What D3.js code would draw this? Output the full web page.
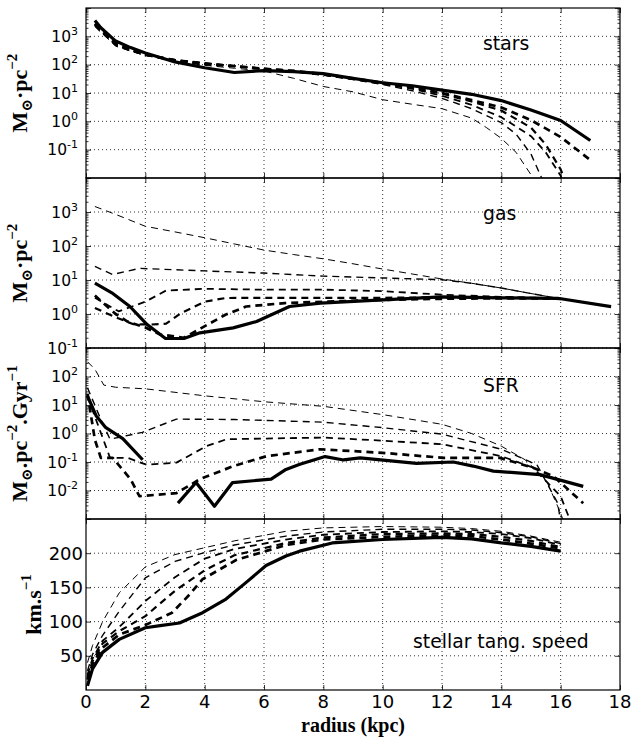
<!DOCTYPE html>
<html>
<head>
<meta charset="utf-8">
<script src="https://cdn.jsdelivr.net/npm/d3@7"></script>
<style>
  body { margin: 0; background: #fff; }
  svg { display: block; }
</style>
</head>
<body>
<svg id="chart" width="636" height="738"></svg>
<script>
// radius (kpc) vs value. d0 = thinnest dashed ... d4 = thickest dashed, s = solid
const xTicks = [0, 2, 4, 6, 8, 10, 12, 14, 16, 18];

const starsD0 = [[0.3,2200],[0.5,1400],[1,450],[1.5,300],[2,210],[3,130],[4,95],[5,75],[6,60],[7,33],[8,17],[9,11],[10,5.8],[11,4],[12,2.8],[13,1.3],[13.5,0.6],[14,0.25],[14.5,0.08],[15,0.013],[15.2,0.006]];
const starsD1 = [[0.3,2400],[0.5,1450],[1,480],[1.5,310],[2,215],[3,145],[4,112],[5,90],[6,70],[7,57],[8,43],[9,30],[10,20],[11,12],[12,6.5],[13,2.8],[14,0.9],[14.5,0.35],[15,0.07],[15.4,0.008]];
const starsD2 = [[0.3,2500],[0.5,1500],[1,500],[1.5,320],[2,220],[3,150],[4,115],[5,90],[6,70],[7,57],[8,43],[9,31],[10,21],[11,14],[12,8],[13,3.8],[14,1.4],[15,0.3],[15.5,0.08],[16,0.012],[16.1,0.005]];
const starsD3 = [[0.3,2600],[0.5,1600],[1,520],[1.5,330],[2,225],[3,145],[4,110],[5,90],[6,72],[7,60],[8,45],[9,32],[10,22],[11,15],[12,9.5],[13,5],[14,2.4],[15,0.6],[15.5,0.15],[16,0.02],[16.2,0.006]];
const starsD4 = [[0.3,2800],[0.5,1700],[1,550],[1.5,340],[2,230],[3,140],[4,105],[5,88],[6,72],[7,60],[8,46],[9,33],[10,23],[11,16.5],[12,10],[13,5.6],[14,3.1],[15,1.1],[16,0.28],[17,0.043]];
const starsS  = [[0.3,3600],[0.5,2000],[1,680],[1.5,400],[2,260],[3,125],[4,78],[5,53],[6,62],[7,57],[8,48],[9,33],[10,23],[11,18],[12,12.6],[13,9],[14,5.4],[15,2.5],[16,1.07],[17,0.21]];

const gasD0 = [[0.3,1450],[1,850],[2,380],[3,260],[4,175],[5,115],[6,76],[7,56],[8,42],[9,30],[10,21],[11,15],[12,10.7],[13,8],[14,5.8],[15,4],[16,2.8]];
const gasD1 = [[0.3,25],[0.9,14.5],[1.8,22],[3,20],[4,18.5],[6,16],[8,13],[10,11.5],[12,10.2],[13,8],[14,5.8],[15,4],[16,2.8]];
const gasD2 = [[0.3,3.0],[1.1,1.2],[2,2.3],[2.7,4.9],[4,5.5],[6,5.2],[8,5.2],[10,4.7],[12,3.7],[14,3.2],[15,3.0],[16,2.8]];
const gasD3 = [[0.3,1.5],[1,0.8],[1.6,0.5],[2.2,0.49],[2.7,0.52],[3.2,1.05],[4,2.3],[4.7,2.95],[6,3.0],[8,3.0],[10,3.0],[12,3.1],[14,3.1],[15,3.0],[16,2.8]];
const gasD4 = [[0.3,3.5],[1,1.0],[1.4,0.6],[2,0.4],[2.5,0.25],[3.3,0.2],[3.9,0.39],[4.7,0.95],[5.4,1.66],[6.7,2.1],[8,2.3],[10,2.6],[12,2.8],[14,2.9],[15,2.9],[16,2.8]];
const gasS  = [[0.3,8.1],[0.87,4.2],[1.48,1.66],[2.06,0.49],[2.68,0.19],[3.3,0.19],[3.84,0.28],[4.96,0.39],[5.75,0.6],[6.86,1.66],[7.9,2.1],[10,2.6],[12,3.2],[14,3.0],[15.9,2.9],[17.7,1.65]];

const sfrD0 = [[0.05,330],[0.3,180],[0.6,50],[1,42],[2,37],[4,21],[6,13],[8,9],[10,4.6],[12,2.1],[13,1.0],[14,0.36],[14.8,0.12],[15.5,0.025],[16,0.0016],[16.1,0.0008]];
const sfrD1 = [[0.05,40],[0.47,3.7],[0.81,0.63],[1.9,1.1],[3.05,3.2],[5,3.1],[8,2.5],[10,1.6],[12,0.95],[14,0.28],[15.2,0.08],[15.9,0.0036],[16,0.0008]];
const sfrD2 = [[0.05,20],[0.58,0.63],[0.81,0.14],[1.4,0.14],[2.04,0.08],[3.05,0.095],[4.06,0.36],[4.74,0.63],[8,0.72],[10,0.56],[12,0.42],[14,0.16],[15.07,0.063],[16,0.0063],[16.3,0.001]];
const sfrD4 = [[0.05,25],[0.3,0.6],[0.5,0.14],[0.9,0.14],[1.5,0.025],[1.8,0.0063],[3.05,0.0081],[3.84,0.025],[4.97,0.072],[6.09,0.16],[7.89,0.28],[10,0.21],[12.03,0.14],[13.95,0.14],[15.07,0.063],[15.75,0.032],[16.76,0.0036]];
const sfrS  = [[0.05,21],[0.34,4.2],[0.67,1.6],[1.24,0.66],[1.91,0.12],[2.5,null],[3.1,0.0036],[3.71,0.019],[4.33,0.0028],[4.94,0.019],[6.24,0.025],[6.74,0.055],[7.21,0.083],[8.06,0.155],[8.68,0.118],[9.24,0.14],[11.14,0.089],[12.38,0.1],[13.05,0.072],[13.73,0.048],[15.3,0.036],[16.76,0.014]];

const speedD0 = [[0.05,40],[0.22,65],[0.56,100],[1.12,142],[2,180],[3,198],[4,208],[5,218],[6.74,232],[8,237],[10,239],[12,238],[13,236],[14,232],[15,225],[16,216]];
const speedD1 = [[0.05,28],[0.22,52],[0.56,80],[1.12,115],[2,164],[3,188],[4,201],[5,212],[6.74,225],[8,231],[10,235],[12,235],[13,234],[14,230],[15,224],[16,214]];
const speedD2 = [[0.05,22],[0.22,46],[0.56,72],[1.12,92],[2,130],[3,165],[4,192],[5,206],[6.74,220],[8,227],[10,231],[12,232],[13,231],[14,228],[15,222],[16,212]];
const speedD3 = [[0.05,18],[0.22,42],[0.56,68],[1.12,86],[2,108],[3,145],[4,175],[5,197],[6.74,215],[8,223],[10,228],[12,229],[13,228],[14,224],[15,218],[16,209]];
const speedD4 = [[0.05,15],[0.22,38],[0.56,62],[1.12,81],[2,95],[2.9,113],[3.5,140],[3.93,162],[5.06,190],[6.74,212],[8,220],[10,224],[12,226],[13,225],[14,220],[15,214],[16,207]];
const speedS  = [[0.05,6],[0.22,31],[0.56,55],[1.12,74],[2,91],[2.5,94],[3.15,98],[3.93,113],[4.72,133],[5.39,157],[6.07,182],[6.74,196],[7.2,203],[8.3,215],[10,220],[12,223],[13,221],[14,215],[15,210],[16,203]];

const speedTicks = [50, 100, 150, 200];

// line styles: width and dash for d0..d4 and solid
const lineWidths = [1, 1.4, 1.8, 2.2, 2.7, 3.2];
const lineDash = ['7,5', '7,5', '7,5', '7,5', '7,5', null];

const L = 86, R = 620;
const panels = [
  { label: 'stars', top: 8, bottom: 178, log: true, domain: [1e-2, 1e4], labels: [3, 2, 1, 0, -1],
    series: [starsD0, starsD1, starsD2, starsD3, starsD4, starsS], styles: [0, 1, 2, 3, 4, 5],
    ylab: [['M', 0], ['⊙', 1], ['·pc', 0], ['−2', 2]], ylx: 27 },
  { label: 'gas', top: 178, bottom: 348, log: true, domain: [1e-1, 1e4], labels: [3, 2, 1, 0, -1],
    series: [gasD0, gasD1, gasD2, gasD3, gasD4, gasS], styles: [0, 1, 2, 3, 4, 5],
    ylab: [['M', 0], ['⊙', 1], ['·pc', 0], ['−2', 2]], ylx: 27 },
  { label: 'SFR', top: 348, bottom: 519, log: true, domain: [1e-3, 1e3], labels: [2, 1, 0, -1, -2],
    series: [sfrD0, sfrD1, sfrD2, sfrD4, sfrS], styles: [0, 1, 2, 4, 5],
    ylab: [['M', 0], ['⊙', 1], ['.pc', 0], ['−2', 2], ['.Gyr', 0], ['−1', 2]], ylx: 27 },
  { label: 'stellar tang. speed', top: 519, bottom: 690, log: false, domain: [0, 250], labels: speedTicks,
    series: [speedD0, speedD1, speedD2, speedD3, speedD4, speedS], styles: [0, 1, 2, 3, 4, 5],
    ylab: [['km.s', 0], ['−1', 2]], ylx: 41 }
];
const annot = [[483, 50], [483, 220], [483, 392], [413, 648]];

const svg = d3.select('#chart');
const x = d3.scaleLinear().domain([0, 18]).range([L, R]);

panels.forEach((p, i) => {
  const g = svg.append('g');
  const y = (p.log ? d3.scaleLog() : d3.scaleLinear()).domain(p.domain).range([p.bottom, p.top]);

  svg.append('clipPath').attr('id', 'clip' + i)
    .append('rect').attr('x', L).attr('y', p.top).attr('width', R - L).attr('height', p.bottom - p.top);

  // major / minor tick positions
  let majors, minors = [];
  if (p.log) {
    const lo = Math.log10(p.domain[0]), hi = Math.log10(p.domain[1]);
    majors = d3.range(lo, hi + 1).map(e => Math.pow(10, e));
    d3.range(lo, hi).forEach(e => {
      for (let k = 2; k < 10; k++) minors.push(k * Math.pow(10, e));
    });
  } else {
    majors = p.labels;
  }
  const gridY = p.log ? p.labels.map(e => Math.pow(10, e)) : p.labels;

  // dotted grid
  g.append('g').selectAll('line').data(xTicks.slice(1, -1)).join('line')
    .attr('x1', d => x(d)).attr('x2', d => x(d)).attr('y1', p.top).attr('y2', p.bottom)
    .attr('stroke', '#000').attr('stroke-width', 0.8).attr('stroke-dasharray', '1,3');
  g.append('g').selectAll('line').data(gridY).join('line')
    .attr('x1', L).attr('x2', R).attr('y1', d => y(d)).attr('y2', d => y(d))
    .attr('stroke', '#000').attr('stroke-width', 0.8).attr('stroke-dasharray', '1,3');

  // curves
  const line = d3.line().defined(d => d[1] != null).x(d => x(d[0])).y(d => y(d[1]));
  const lg = g.append('g').attr('clip-path', `url(#clip${i})`);
  p.series.forEach((s, j) => {
    const st = p.styles[j];
    lg.append('path').datum(s).attr('d', line)
      .attr('fill', 'none').attr('stroke', '#000')
      .attr('stroke-width', lineWidths[st])
      .attr('stroke-dasharray', lineDash[st])
      .attr('stroke-linejoin', 'round');
  });

  // ticks (inward) via d3 axes
  const axes = [
    [d3.axisLeft(y).tickValues(majors).tickSize(-5), L, 0],
    [d3.axisRight(y).tickValues(majors).tickSize(-5), R, 0],
    [d3.axisTop(x).tickValues(xTicks).tickSize(-5), 0, p.top],
    [d3.axisBottom(x).tickValues(xTicks).tickSize(-5), 0, p.bottom]
  ];
  if (p.log) {
    axes.push([d3.axisLeft(y).tickValues(minors).tickSize(-2.5), L, 0]);
    axes.push([d3.axisRight(y).tickValues(minors).tickSize(-2.5), R, 0]);
  }
  axes.forEach(([ax, tx, ty]) => {
    const a = g.append('g').attr('transform', `translate(${tx},${ty})`).call(ax.tickFormat(''));
    a.select('.domain').remove();
    a.selectAll('line').attr('stroke-width', 0.8);
  });

  // frame
  g.append('rect').attr('x', L).attr('y', p.top).attr('width', R - L).attr('height', p.bottom - p.top)
    .attr('fill', 'none').attr('stroke', '#000').attr('stroke-width', 1.2);

  // y tick labels
  if (p.log) {
    p.labels.forEach(e => {
      const t = g.append('text').attr('x', 78).attr('y', y(Math.pow(10, e)) + 5.5)
        .attr('text-anchor', 'end').attr('font-family', 'DejaVu Sans').attr('font-size', 15.5);
      t.append('tspan').text('10');
      t.append('tspan').attr('dy', -7).attr('font-size', 11).text(e < 0 ? '-' + (-e) : e);
    });
  } else {
    g.append('g').selectAll('text').data(p.labels).join('text')
      .attr('x', 83).attr('y', d => y(d) + 6.5).attr('text-anchor', 'end')
      .attr('font-family', 'DejaVu Sans').attr('font-size', 18).text(d => d);
  }

  // y axis label (rotated, bold serif)
  const cy = (p.top + p.bottom) / 2;
  const yl = g.append('text').attr('transform', `translate(${p.ylx},${cy}) rotate(-90)`)
    .attr('text-anchor', 'middle').attr('font-family', 'Liberation Serif, DejaVu Serif')
    .attr('font-weight', 'bold').attr('font-size', 22);
  let shift = 0;
  p.ylab.forEach(([txt, kind]) => {
    const target = kind === 1 ? 5 : kind === 2 ? -10 : 0;
    const ts = yl.append('tspan').attr('dy', target - shift).text(txt);
    if (kind) ts.attr('font-size', 15);
    shift = target;
  });

  // panel annotation
  g.append('text').attr('x', annot[i][0]).attr('y', annot[i][1])
    .attr('font-family', 'DejaVu Sans').attr('font-size', 18.8).text(p.label);
});

// x tick labels and title below last panel
svg.append('g').selectAll('text').data(xTicks).join('text')
  .attr('x', d => x(d)).attr('y', 708).attr('text-anchor', 'middle')
  .attr('font-family', 'DejaVu Sans').attr('font-size', 18).text(d => d);

svg.append('text').attr('x', 353).attr('y', 732).attr('text-anchor', 'middle')
  .attr('font-family', 'Liberation Serif, DejaVu Serif').attr('font-weight', 'bold')
  .attr('font-size', 20).text('radius (kpc)');
</script>
</body>
</html>
